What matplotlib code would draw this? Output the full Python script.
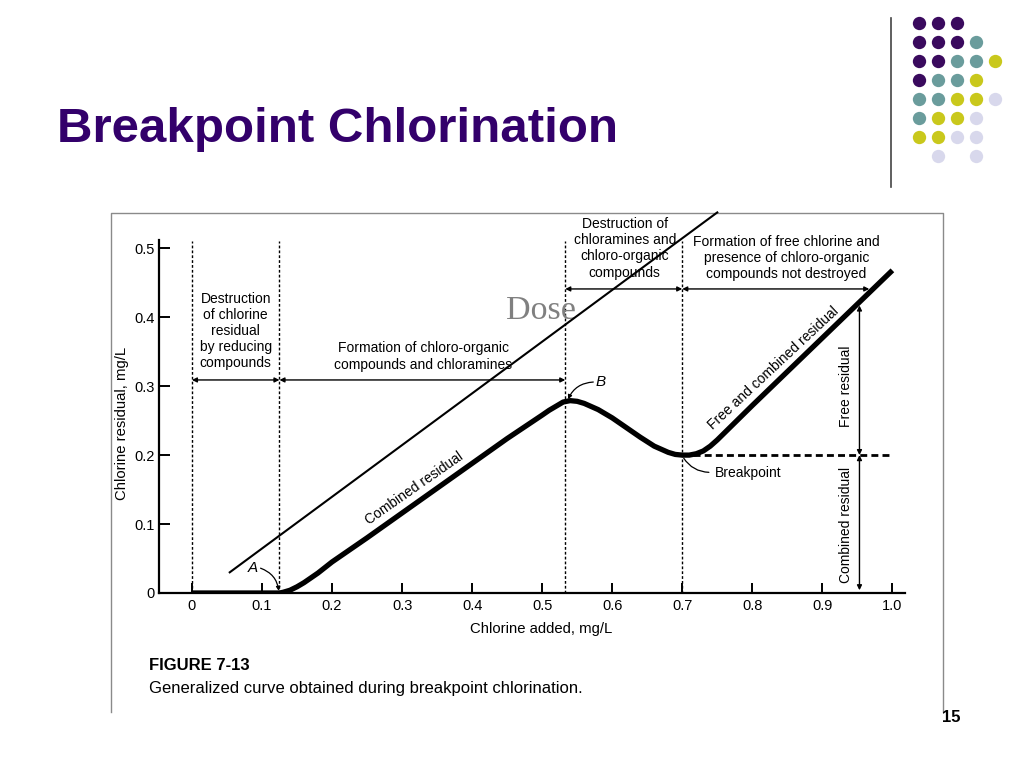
import matplotlib
matplotlib.use("Agg")
import matplotlib.pyplot as plt

# --- data ---
curve_x = [0.0, 0.06, 0.125, 0.13, 0.14, 0.15, 0.16, 0.17, 0.18, 0.19, 0.2, 0.25, 0.3,
           0.35, 0.4, 0.45, 0.5, 0.51, 0.52, 0.53, 0.54, 0.55, 0.56, 0.58, 0.6, 0.62,
           0.64, 0.66, 0.68, 0.69, 0.7, 0.71, 0.72, 0.73, 0.74, 0.75, 0.76, 0.78,
           0.8, 0.85, 0.9, 0.95, 1.0]
curve_y = [0.0, 0.0, 0.0, 0.001, 0.004, 0.009, 0.015, 0.022, 0.029, 0.037, 0.045, 0.08, 0.116,
           0.152, 0.188, 0.224, 0.258, 0.265, 0.271, 0.277, 0.279, 0.278, 0.275, 0.266, 0.254, 0.24,
           0.226, 0.213, 0.204, 0.201, 0.2, 0.2, 0.202, 0.206, 0.213, 0.222, 0.232, 0.252,
           0.272, 0.321, 0.37, 0.419, 0.468]
phase_bounds = [0.0, 0.125, 0.533, 0.7]
breakpoint_y = 0.2
x_ticks = [0, 0.1, 0.2, 0.3, 0.4, 0.5, 0.6, 0.7, 0.8, 0.9, 1.0]
x_ticklabels = ["0", "0.1", "0.2", "0.3", "0.4", "0.5", "0.6", "0.7", "0.8", "0.9", "1.0"]
y_ticks = [0, 0.1, 0.2, 0.3, 0.4, 0.5]
y_ticklabels = ["0", "0.1", "0.2", "0.3", "0.4", "0.5"]

# slide decoration dots (P purple, T teal, Y yellow, L lavender)
dot_rows = ["PPP..", "PPPT.", "PPTTY", "PTTY.", "TTYYL", "TYYL.", "YYLL.", ".L.L."]
dot_colors = {"P": "#3a0a5e", "T": "#6a9c9c", "Y": "#c9c81c", "L": "#d8d8ec"}

title_color = "#33006b"
font = "Liberation Sans"

fig = plt.figure(figsize=(10.24, 7.68), dpi=100)

# overlay in pixel coords for slide parts
deco = fig.add_axes([0, 0, 1, 1])
deco.set_xlim(0, 1024)
deco.set_ylim(768, 0)
deco.axis("off")
deco.set_zorder(0)

deco.text(57, 130, "Breakpoint Chlorination", fontsize=35.5, fontweight="bold",
          color=title_color, family=font, va="center", ha="left")
deco.plot([891, 891], [18, 187], color="#444444", lw=1.2)
for r, row in enumerate(dot_rows):
    for c, ch in enumerate(row):
        if ch in dot_colors:
            deco.scatter(919 + c * 19, 23 + r * 19, s=92, color=dot_colors[ch], lw=0)

# frame of the scanned figure
deco.plot([111, 111, 943, 943], [712, 213, 213, 712], color="#8a8a8a", lw=1)
deco.text(149, 665, "FIGURE 7-13", fontsize=12, fontweight="bold", family=font,
          va="center", ha="left")
deco.text(149, 688, "Generalized curve obtained during breakpoint chlorination.",
          fontsize=12, family=font, va="center", ha="left")
deco.text(951, 718, "15", fontsize=12, fontweight="bold", family=font,
          va="center", ha="center")

# main chart
ax = fig.add_axes([159 / 1024, 175 / 768, 746 / 1024, 353 / 768])
ax.set_zorder(1)
ax.patch.set_alpha(0)
ax.set_xlim(-0.047, 1.018)
ax.set_ylim(0, 0.512)
for s in ["top", "right"]:
    ax.spines[s].set_visible(False)
for s in ["left", "bottom"]:
    ax.spines[s].set_linewidth(1.6)
ax.set_xticks(x_ticks)
ax.set_xticklabels(x_ticklabels, family=font, fontsize=10.5)
ax.set_yticks(y_ticks)
ax.set_yticklabels(y_ticklabels, family=font, fontsize=10.5)
ax.tick_params(axis="x", direction="in", length=7, width=1.4, pad=4)
ax.tick_params(axis="y", direction="in", length=8, width=1.4, pad=3)
ax.set_ylabel("Chlorine residual, mg/L", family=font, fontsize=10.7)
ax.yaxis.set_label_coords(-0.04, 0.479)
ax.text(0.498, -0.052, "Chlorine added, mg/L", family=font, fontsize=10.7,
        ha="center", va="center", clip_on=False)

ax.plot(curve_x, curve_y, color="black", lw=3.8, solid_joinstyle="round",
        solid_capstyle="butt", zorder=4)

for xb in phase_bounds:
    ax.plot([xb, xb], [0, 0.51], color="black", lw=1, ls=(0, (2, 1.5)), zorder=2)
ax.plot([0.7, 1.0], [breakpoint_y, breakpoint_y], color="black", lw=2, ls=(0, (2.5, 1.5)), zorder=2)

arrow = dict(arrowstyle="<|-|>", lw=1, color="black", mutation_scale=7, shrinkA=0, shrinkB=0)
for (x0, x1, yy) in [(0.0, 0.125, 0.309), (0.125, 0.533, 0.309),
                     (0.533, 0.7, 0.441), (0.7, 0.967, 0.441)]:
    ax.annotate("", xy=(x1, yy), xytext=(x0, yy), arrowprops=arrow, annotation_clip=False)
ax.annotate("", xy=(0.953, 0.417), xytext=(0.953, breakpoint_y), arrowprops=arrow)
ax.annotate("", xy=(0.953, 0.004), xytext=(0.953, breakpoint_y), arrowprops=arrow)

txt = dict(family=font, fontsize=10, ha="center", va="center", linespacing=1.2)
ax.text(0.0625, 0.38, "Destruction\nof chlorine\nresidual\nby reducing\ncompounds", **txt)
ax.text(0.33, 0.343, "Formation of chloro-organic\ncompounds and chloramines", **txt)
ax.text(0.618, 0.5, "Destruction of\nchloramines and\nchloro-organic\ncompounds",
        clip_on=False, **txt)
ax.text(0.849, 0.486, "Formation of free chlorine and\npresence of chloro-organic\n"
        "compounds not destroyed", clip_on=False, **txt)
ax.text(0.318, 0.152, "Combined residual", rotation=35, **txt)
ax.text(0.83, 0.326, "Free and combined residual", rotation=43, **txt)
ax.text(0.934, 0.30, "Free residual", rotation=90, **txt)
ax.text(0.934, 0.098, "Combined residual", rotation=90, **txt)

ax.text(0.746, 0.174, "Breakpoint", family=font, fontsize=10, ha="left", va="center")
ax.annotate("", xy=(0.7, 0.199), xytext=(0.742, 0.175),
            arrowprops=dict(arrowstyle="-", lw=0.9, color="black",
                            connectionstyle="arc3,rad=-0.3"))
ax.text(0.087, 0.036, "A", family=font, fontsize=11, style="italic", ha="center", va="center")
ax.annotate("", xy=(0.124, 0.003), xytext=(0.098, 0.036),
            arrowprops=dict(arrowstyle="-|>", lw=0.9, color="black", mutation_scale=6,
                            connectionstyle="arc3,rad=-0.3", shrinkA=0, shrinkB=0))
ax.text(0.583, 0.306, "B", family=font, fontsize=11, style="italic", ha="center", va="center")
ax.annotate("", xy=(0.537, 0.281), xytext=(0.573, 0.306),
            arrowprops=dict(arrowstyle="-|>", lw=0.9, color="black", mutation_scale=6,
                            connectionstyle="arc3,rad=0.3", shrinkA=0, shrinkB=0))

# overlay line and label drawn on the slide
ax.plot([0.054, 0.75], [0.030, 0.552], color="black", lw=1.5, clip_on=False, zorder=6)
ax.text(0.498, 0.41, "Dose", family="Liberation Serif", fontsize=24.5, color="#808080",
        ha="center", va="center", zorder=5)

fig.savefig("out.png", dpi=100)
